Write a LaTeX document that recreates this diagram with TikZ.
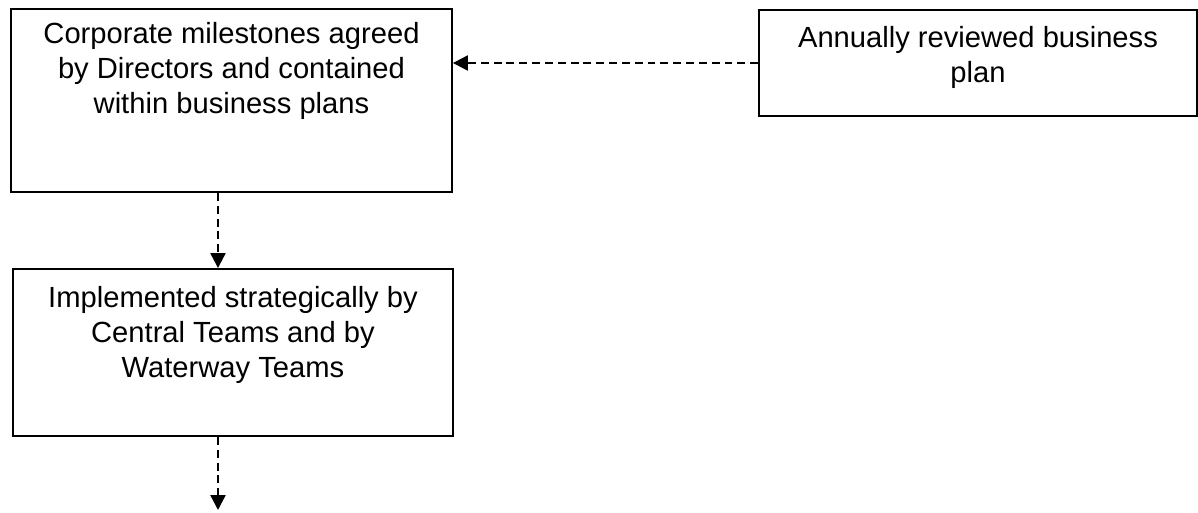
\documentclass[tikz,border=0pt]{standalone}
\usepackage{fontspec}
\setmainfont{Liberation Sans}
\usetikzlibrary{arrows.meta}

\begin{document}
\begin{tikzpicture}
    [
    x=0.02cm, y=-0.02cm,
    box/.style={
        draw,
        rectangle,
        line width=1.1pt,
        inner sep=0pt
    },
    boxtext/.style={
        anchor=north,
        inner sep=0pt,
        align=center, % align is required for multi-line text
        font=\fontsize{16.6}{20}\selectfont
    },
    link/.style={
        line width=1.3pt,
        dash pattern=on 4.5pt off 2.8pt,
        -{Triangle[length=0.3cm,width=0.3cm]}
    },
    ]

    \useasboundingbox (0,0) rectangle (1198,513);

    \draw (231.5,100.5) node[box, minimum width=8.82cm, minimum height=3.66cm] (corp) {};
    \draw (978,63) node[box, minimum width=8.76cm, minimum height=2.12cm] (plan) {};
    \draw (233,352.5) node[box, minimum width=8.8cm, minimum height=3.34cm] (impl) {};

    \draw (corp.north) ++(0,14) node[boxtext] (corptext) {Corporate milestones agreed \\ by Directors and contained \\ within business plans};
    \draw (plan.north) ++(0,17) node[boxtext] (plantext) {Annually reviewed business \\ plan};
    \draw (impl.north) ++(0,18) node[boxtext] (impltext) {Implemented strategically by \\ Central Teams and by \\ Waterway Teams};

    \coordinate (spine) at (218,0);
    \coordinate (next) at (218,510);

    \draw [link] (plan.west) -- (plan.west -| corp.east);
    \draw [link] (corp.south -| spine) -- (impl.north -| spine);
    \draw [link] (impl.south -| spine) -- (next);

\end{tikzpicture}
\end{document}
